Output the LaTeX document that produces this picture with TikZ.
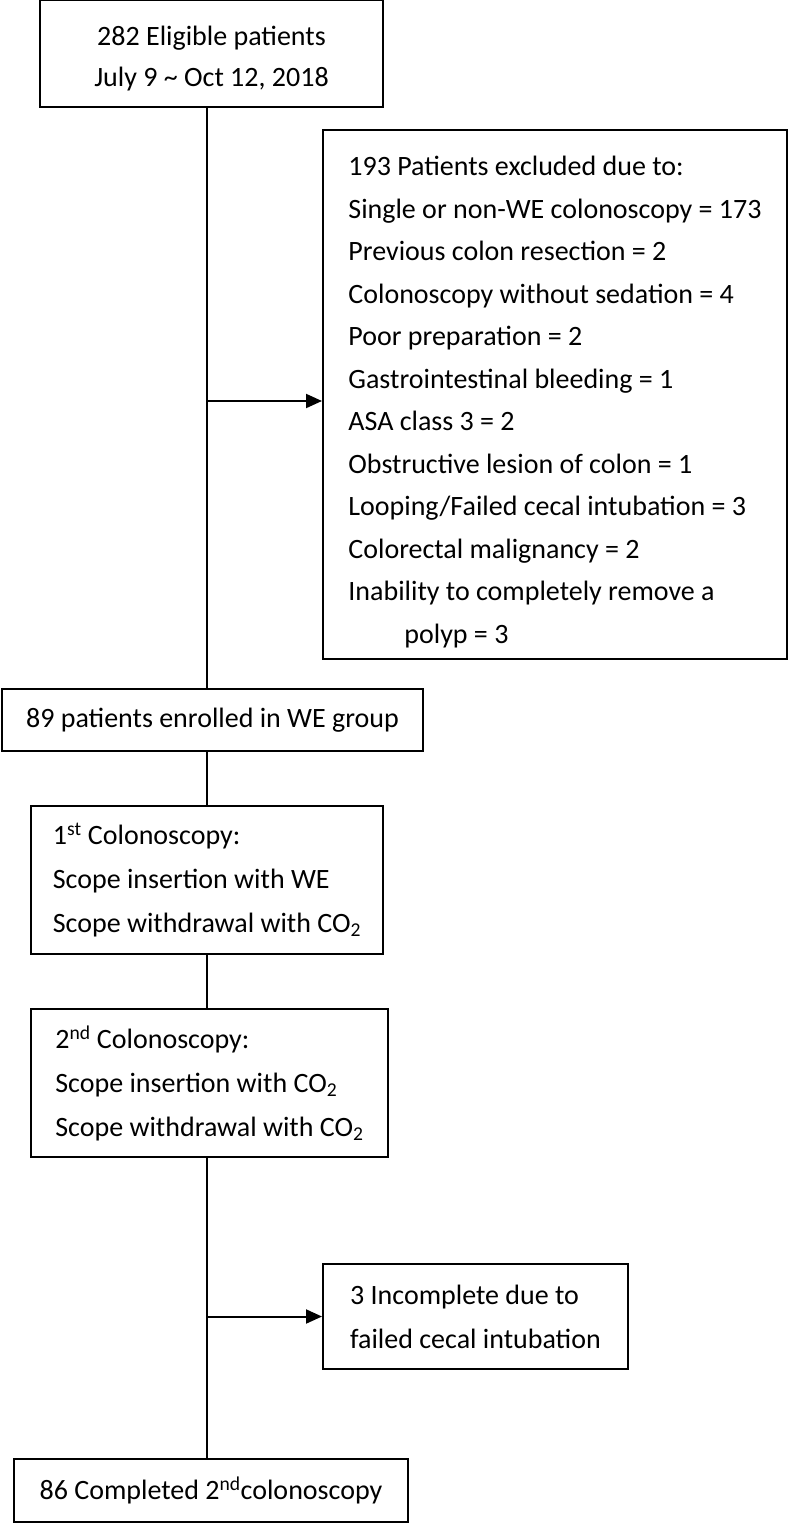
\documentclass[tikz,border=0pt]{standalone}
\usepackage{fontspec}
\setmainfont{Carlito}
\usepackage{tikz}
\usetikzlibrary{arrows.meta, positioning, calc}
\tikzstyle{box} = [rectangle, draw=black, line width=2pt, inner sep=0pt, text centered, font=\fontsize{28}{44}\selectfont]
\tikzstyle{listbox} = [box, align=left]
\tikzstyle{line} = [line width=2pt]
\tikzstyle{arrow} = [line width=2pt, -{Triangle[length=16pt,width=14pt]}]

\begin{document}
\begin{tikzpicture}[x=1pt, y=1pt]
\useasboundingbox (0,0) rectangle (789,-1523);
\coordinate (spine) at (207,0);

\node (start) [box, align=center, minimum width=343pt, minimum height=107pt, font=\fontsize{28}{41}\selectfont] at (211.5,-53.5) {\rule{0pt}{29pt}282 Eligible patients\\ July 9 \textasciitilde{} Oct 12, 2018};
\node (excl) [listbox, anchor=north west, minimum width=464pt, minimum height=529pt, font=\fontsize{28}{42.5}\selectfont] at (322,-129) {\rule{0pt}{34pt}193 Patients excluded due to:\\
Single or non-WE colonoscopy = 173\\
Previous colon resection = 2\\
Colonoscopy without sedation = 4\\
Poor preparation = 2\\
Gastrointestinal bleeding = 1\\
ASA class 3 = 2\\
Obstructive lesion of colon = 1\\
Looping/Failed cecal intubation = 3\\
Colorectal malignancy = 2\\
Inability to completely remove a\\
\hspace*{56pt}polyp = 3};
\node (enrolled) [box, minimum width=421pt, minimum height=62pt, below=580pt of start, xshift=1pt] {89 patients enrolled in WE group};
\node (col1) [listbox, minimum width=352pt, minimum height=148pt, below=53pt of enrolled, xshift=-5.5pt] {1\textsuperscript{st} Colonoscopy:\\ Scope insertion with WE\\ Scope withdrawal with CO\textsubscript{2}};
\node (col2) [listbox, minimum width=357pt, minimum height=148pt, below=53pt of col1, xshift=2.5pt] {2\textsuperscript{nd} Colonoscopy:\\ Scope insertion with CO\textsubscript{2}\\ Scope withdrawal with CO\textsubscript{2}};
\node (incompl) [listbox, anchor=north west, minimum width=305pt, minimum height=105pt] at (322,-1263) {3 Incomplete due to\\ failed cecal intubation};
\node (done) [box, minimum width=394pt, minimum height=63pt, below=300pt of col2, xshift=1.5pt] {86 Completed 2\textsuperscript{nd}colonoscopy};

\coordinate (tap1) at (207,-401);
\draw [line] (start.south -| spine) -- (enrolled.north -| spine);
\draw [arrow] (tap1) -- (tap1 -| excl.west);
\draw [line] (enrolled.south -| spine) -- (col1.north -| spine);
\draw [line] (col1.south -| spine) -- (col2.north -| spine);
\draw [line] (col2.south -| spine) -- (done.north -| spine);
\draw [arrow] (incompl.west -| spine) -- (incompl.west);
\end{tikzpicture}
\end{document}
